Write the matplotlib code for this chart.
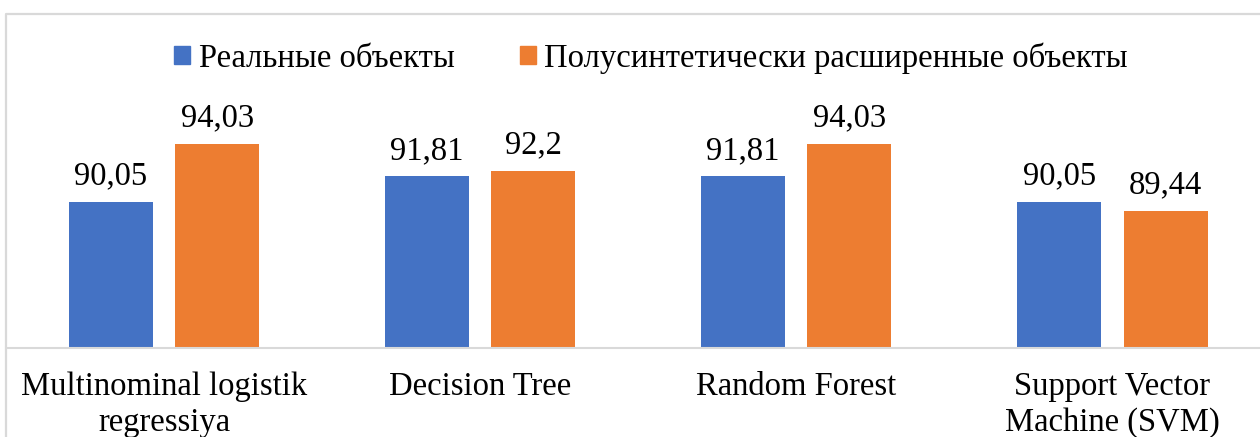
import matplotlib.pyplot as plt
from matplotlib.lines import Line2D
from matplotlib.patches import Patch
import numpy as np

plt.rcParams['font.family'] = ['Liberation Serif', 'DejaVu Serif']

categories = ['Multinominal logistik\nregressiya', 'Decision Tree',
              'Random Forest', 'Support Vector\nMachine (SVM)']
real = [90.05, 91.81, 91.81, 90.05]
semi = [94.03, 92.2, 94.03, 89.44]
series_names = ['Реальные объекты', 'Полусинтетически расширенные объекты']

blue = '#4472C4'
orange = '#ED7D31'
grid = '#D9D9D9'
fs = 23.5

W, H = 1260, 437
fig = plt.figure(figsize=(W / 100, H / 100), dpi=100)
ax = fig.add_axes([6 / W, (H - 347.5) / H, 1264.5 / W, 333.5 / H])

x = np.arange(len(categories))
bw = 0.266
off = 0.168
b1 = ax.bar(x - off, real, bw, color=blue, zorder=2)
b2 = ax.bar(x + off, semi, bw, color=orange, zorder=2)

fmt = lambda v: str(v).replace('.', ',')
ax.bar_label(b1, labels=[fmt(v) for v in real], padding=7.5, fontsize=fs)
ax.bar_label(b2, labels=[fmt(v) for v in semi], padding=7.5, fontsize=fs)

ax.set_xlim(-0.5, 3.5)
ax.set_ylim(80, 103)
ax.set_yticks([])
ax.set_xticks(x)
ax.set_xticklabels(categories, fontsize=fs, linespacing=1.24)
ax.tick_params(axis='x', length=0, pad=17)
for s in ['left', 'right', 'top']:
    ax.spines[s].set_visible(False)
ax.spines['bottom'].set_color(grid)
ax.spines['bottom'].set_linewidth(1.5)

# chart area outline
fig.add_artist(Line2D([6 / W, 6 / W, 1.0], [0, 1 - 14 / H, 1 - 14 / H],
                      transform=fig.transFigure, color=grid, lw=1.6))

handles = [Patch(color=blue), Patch(color=orange)]
fig.legend(handles, series_names, loc='center', bbox_to_anchor=(651 / W, 1 - 58 / H),
           ncol=2, frameon=False, fontsize=fs, handlelength=0.5, handleheight=0.5,
           handletextpad=0.25, columnspacing=2.0, borderpad=0)

fig.savefig('out.png', dpi=100)
